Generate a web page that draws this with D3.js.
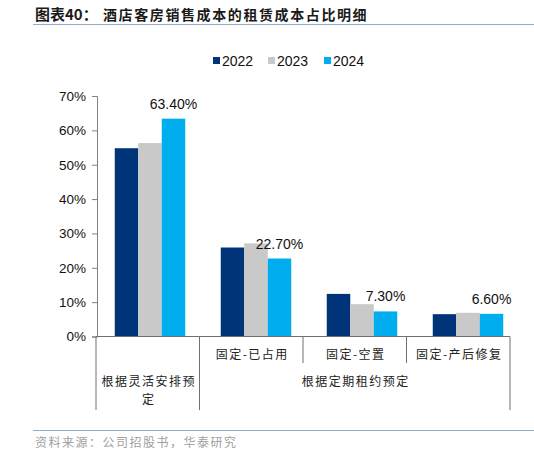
<!DOCTYPE html>
<html>
<head>
<meta charset="utf-8">
<script src="https://cdn.jsdelivr.net/npm/d3@7"></script>
<style>
  body { margin: 0; background: #fff; }
  svg { display: block; }
</style>
</head>
<body>
<div id="chart"></div>
<script>
// Chart data
const CATEGORIES = ["根据灵活安排预定", "固定-已占用", "固定-空置", "固定-产后修复"];
const LEVEL1_LABELS = ["", "固定-已占用", "固定-空置", "固定-产后修复"];
const GROUP_LABELS = [
  {lines: ["根据灵活安排预", "定"], from: 0, to: 0},
  {lines: ["根据定期租约预定"], from: 1, to: 3}
];
const SERIES = ["2022", "2023", "2024"];
const VALUES_2022 = [0.548, 0.259, 0.124, 0.065];
const VALUES_2023 = [0.563, 0.271, 0.094, 0.069];
const VALUES_2024 = [0.634, 0.227, 0.073, 0.066];
const Y_TICKS = [0, 0.1, 0.2, 0.3, 0.4, 0.5, 0.6, 0.7];
const COLORS = {"2022": "#003478", "2023": "#c9c9c9", "2024": "#00aeef"};

const FRAME_WIDTH = 534;
const FRAME_HEIGHT = 455;
const PLOT = {left: 97, top: 96, bottom: 336.5};

const FRAME = d3.select("#chart")
  .append("svg")
    .attr("width", FRAME_WIDTH)
    .attr("height", FRAME_HEIGHT);

const LATIN = "'Liberation Sans', Arial, sans-serif";
const CJK = "'Noto Sans CJK SC', sans-serif";

// Title and rules
FRAME.append("text")
  .attr("x", 35).attr("y", 20)
  .style("font-family", CJK).style("font-size", "15px").style("font-weight", 700)
  .attr("fill", "#1a1a1a")
  .text("图表40：");
FRAME.append("text")
  .attr("x", 103).attr("y", 20)
  .style("font-family", CJK).style("font-size", "14px").style("font-weight", 700)
  .style("letter-spacing", "1.6px")
  .attr("fill", "#1a1a1a")
  .text("酒店客房销售成本的租赁成本占比明细");
FRAME.append("line")
  .attr("x1", 33).attr("x2", FRAME_WIDTH).attr("y1", 24.5).attr("y2", 24.5)
  .attr("stroke", "#93acc9").attr("stroke-width", 1);
FRAME.append("line")
  .attr("x1", 33).attr("x2", FRAME_WIDTH).attr("y1", 430.5).attr("y2", 430.5)
  .attr("stroke", "#93acc9").attr("stroke-width", 1);
FRAME.append("text")
  .attr("x", 35).attr("y", 447)
  .style("font-family", CJK).style("font-size", "12px")
  .style("letter-spacing", "1.5px")
  .attr("fill", "#a0a0a0")
  .text("资料来源：公司招股书，华泰研究");

// Scales
const Y_SCALE = d3.scaleLinear().domain([0, 0.7]).range([PLOT.bottom, PLOT.top]);
const X_SCALE = d3.scaleBand().domain(CATEGORIES).range([97, 521])
  .paddingInner(0.335).paddingOuter(0.1675);
const X_SUB = d3.scaleBand().domain(SERIES).range([0, X_SCALE.bandwidth()]);
const X_AXIS = d3.scaleBand().domain(CATEGORIES).range([96, 510]);

const seriesData = SERIES.map((s, i) => ({
  name: s,
  values: [VALUES_2022, VALUES_2023, VALUES_2024][i]
}));

// Bars
const groups = FRAME.selectAll(".series")
  .data(seriesData)
  .enter()
  .append("g")
    .attr("class", "series")
    .attr("fill", (d) => COLORS[d.name]);

groups.selectAll("rect")
  .data((d) => d.values.map((v, j) => ({series: d.name, cat: CATEGORIES[j], value: v})))
  .enter()
  .append("rect")
    .attr("x", (d) => X_SCALE(d.cat) + X_SUB(d.series))
    .attr("y", (d) => Y_SCALE(d.value))
    .attr("width", X_SUB.bandwidth())
    .attr("height", (d) => PLOT.bottom - Y_SCALE(d.value));

// Data labels for 2024
FRAME.selectAll(".dlabel")
  .data(VALUES_2024)
  .enter()
  .append("text")
    .attr("class", "dlabel")
    .attr("x", (d, j) => X_SCALE(CATEGORIES[j]) + X_SUB("2024") + X_SUB.bandwidth() / 2)
    .attr("y", (d) => Y_SCALE(d) - 10)
    .attr("text-anchor", "middle")
    .style("font-family", LATIN).style("font-size", "14px")
    .attr("fill", "#111")
    .text((d) => (d * 100).toFixed(2) + "%");

// Y axis
const yAxis = FRAME.append("g")
  .attr("transform", "translate(" + PLOT.left + ",0)")
  .call(d3.axisLeft(Y_SCALE).tickValues(Y_TICKS).tickSize(5).tickPadding(6)
    .tickFormat((d) => Math.round(d * 100) + "%"));
yAxis.select(".domain").attr("stroke", "#808080");
yAxis.selectAll(".tick line").attr("stroke", "#808080");
yAxis.selectAll("text")
  .style("font-family", LATIN).style("font-size", "13.5px").attr("fill", "#111");

// Category axis
FRAME.append("line")
  .attr("x1", X_AXIS.range()[0]).attr("x2", X_AXIS.range()[1])
  .attr("y1", PLOT.bottom).attr("y2", PLOT.bottom)
  .attr("stroke", "#707070");

const boundaries = CATEGORIES.map((c) => X_AXIS(c)).concat([X_AXIS.range()[1]]);
const groupEdges = new Set();
GROUP_LABELS.forEach((g) => { groupEdges.add(g.from); groupEdges.add(g.to + 1); });

FRAME.selectAll(".sep")
  .data(boundaries)
  .enter()
  .append("line")
    .attr("class", "sep")
    .attr("x1", (d) => d).attr("x2", (d) => d)
    .attr("y1", PLOT.bottom)
    .attr("y2", (d, i) => groupEdges.has(i) ? 410 : 363)
    .attr("stroke", "#707070");

FRAME.selectAll(".lvl1")
  .data(LEVEL1_LABELS)
  .enter()
  .append("text")
    .attr("class", "lvl1")
    .attr("x", (d, i) => X_AXIS(CATEGORIES[i]) + X_AXIS.bandwidth() / 2 + 1)
    .attr("y", 359)
    .attr("text-anchor", "middle")
    .style("font-family", CJK).style("font-size", "12px")
    .style("letter-spacing", "1.5px")
    .attr("fill", "#222")
    .text((d) => d);

GROUP_LABELS.forEach((g) => {
  const x0 = X_AXIS(CATEGORIES[g.from]);
  const x1 = X_AXIS(CATEGORIES[g.to]) + X_AXIS.bandwidth();
  g.lines.forEach((line, k) => {
    FRAME.append("text")
      .attr("x", (x0 + x1) / 2 + 1)
      .attr("y", 386 + k * 18)
      .attr("text-anchor", "middle")
      .style("font-family", CJK).style("font-size", "12px")
      .style("letter-spacing", "1.5px")
      .attr("fill", "#222")
      .text(line);
  });
});

// Legend
const LEGEND_X = [213, 268, 324];
const legend = FRAME.selectAll(".legend")
  .data(SERIES)
  .enter()
  .append("g")
    .attr("class", "legend")
    .attr("transform", (d, i) => "translate(" + LEGEND_X[i] + ",57)");
legend.append("rect")
  .attr("width", 7).attr("height", 7)
  .attr("fill", (d) => COLORS[d]);
legend.append("text")
  .attr("x", 9).attr("y", 8.5)
  .style("font-family", LATIN).style("font-size", "14px")
  .attr("fill", "#111")
  .text((d) => d);
</script>
</body>
</html>
